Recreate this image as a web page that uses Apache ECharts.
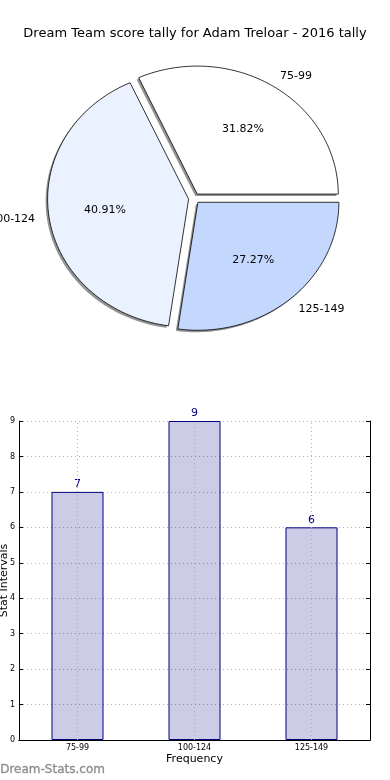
<!DOCTYPE html>
<html>
<head>
<meta charset="utf-8">
<script src="https://cdn.jsdelivr.net/npm/echarts@6/dist/echarts.min.js"></script>
<style>
html,body{margin:0;padding:0;background:#fff;}
#main{width:390px;height:780px;}
</style>
</head>
<body>
<div id="main"></div>
<script>
const titleText = 'Dream Team score tally for Adam Treloar - 2016 tally';
const categories = ['75-99', '100-124', '125-149'];
const counts = [7, 9, 6];
const yTicks = [0, 1, 2, 3, 4, 5, 6, 7, 8, 9];

const FONT = 'DejaVu Sans';
const sliceColors = ['#ffffff', '#eaf1ff', '#c4d8fe'];
const total = counts.reduce((a, b) => a + b, 0);
const cumStart = [];
counts.reduce((acc, v, i) => { cumStart[i] = acc; return acc + v; }, 0);

function renderSlice(params, api) {
  const i = params.dataIndex;
  const v = api.value(1);
  const a0 = cumStart[i] / total * Math.PI * 2;
  const a1 = (cumStart[i] + v) / total * Math.PI * 2;
  const mid = (a0 + a1) / 2;
  const ex = 0.04;
  const ox = ex * Math.cos(mid), oy = ex * Math.sin(mid);
  const pts = [api.coord([ox, oy])];
  const N = 80;
  for (let k = 0; k <= N; k++) {
    const a = a0 + (a1 - a0) * k / N;
    pts.push(api.coord([ox + Math.cos(a), oy + Math.sin(a)]));
  }
  const shadowPts = pts.map(p => [p[0] - 2, p[1] + 2]);
  const pctPos = api.coord([ox + 0.6 * Math.cos(mid), oy + 0.6 * Math.sin(mid)]);
  const namePos = api.coord([ox + 1.1 * Math.cos(mid), oy + 1.1 * Math.sin(mid)]);
  return {
    type: 'group',
    children: [
      { type: 'polygon', shape: { points: shadowPts }, style: { fill: 'rgba(60,60,60,0.55)', stroke: null } },
      { type: 'polygon', shape: { points: pts }, style: { fill: sliceColors[i], stroke: '#000', lineWidth: 0.8 } },
      { type: 'text', x: pctPos[0], y: pctPos[1], style: { text: (v / total * 100).toFixed(2) + '%', fontFamily: FONT, fontSize: 11, fill: '#000', align: 'center', verticalAlign: 'middle' } },
      { type: 'text', x: namePos[0] - (Math.cos(mid) >= 0 ? 1 : 0), y: namePos[1], style: { text: categories[i], fontFamily: FONT, fontSize: 11, fill: '#000', align: Math.cos(mid) >= 0 ? 'left' : 'right', verticalAlign: 'middle' } }
    ]
  };
}

const chart = echarts.init(document.getElementById('main'), null, { renderer: 'canvas' });
const option = {
  backgroundColor: '#fff',
  animation: false,
  textStyle: { fontFamily: FONT },
  title: {
    text: titleText, left: 'center', top: 22,
    textStyle: { fontFamily: FONT, fontSize: 13, fontWeight: 'normal', color: '#000' }
  },
  graphic: [{
    type: 'text', left: 0, top: 764,
    style: { text: 'Dream-Stats.com', fontFamily: FONT, fontSize: 12, fontWeight: 'normal', fill: '#8c8c8c', stroke: '#a8a8a8', lineWidth: 0.4 }
  }],
  grid: [
    { left: 53.2, top: 70.4, width: 282, height: 256, outerBoundsMode: 'none', containLabel: false },
    { left: 19, right: 20, top: 421, bottom: 40, outerBoundsMode: 'none', containLabel: false }
  ],
  xAxis: [
    { gridIndex: 0, type: 'value', min: -1, max: 1, show: false },
    {
      gridIndex: 1, type: 'category', data: categories, boundaryGap: true,
      axisLine: { lineStyle: { color: '#000', width: 1 } },
      axisTick: { inside: true, alignWithLabel: true, length: 4, lineStyle: { color: '#000' } },
      axisLabel: { fontSize: 8, color: '#000', margin: 4, fontFamily: FONT },
      splitLine: { show: false },
      name: 'Frequency', nameLocation: 'middle', nameGap: 14, nameMoveOverlap: false,
      nameTextStyle: { fontSize: 11, color: '#000', fontFamily: FONT }
    },
    {
      gridIndex: 1, type: 'category', data: categories, position: 'top', boundaryGap: true,
      axisLine: { lineStyle: { color: '#000', width: 1 } },
      axisTick: { inside: true, alignWithLabel: true, length: 4, lineStyle: { color: '#000' } },
      axisLabel: { show: false }, splitLine: { show: false }
    }
  ],
  yAxis: [
    { gridIndex: 0, type: 'value', min: -1, max: 1, show: false },
    {
      gridIndex: 1, type: 'value', min: yTicks[0], max: yTicks[yTicks.length - 1], interval: 1,
      axisLine: { show: true, lineStyle: { color: '#000', width: 1 } },
      axisTick: { show: true, inside: true, length: 4, lineStyle: { color: '#000' } },
      axisLabel: { fontSize: 8, color: '#000', margin: 4, fontFamily: FONT },
      splitLine: { show: true, lineStyle: { color: '#b0b0b0', type: [1, 3], width: 1 } },
      name: 'Stat Intervals', nameLocation: 'middle', nameGap: 9, nameRotate: 90, nameMoveOverlap: false,
      nameTextStyle: { fontSize: 11, color: '#000', fontFamily: FONT }
    },
    {
      gridIndex: 1, type: 'value', position: 'right', min: yTicks[0], max: yTicks[yTicks.length - 1], interval: 1,
      axisLine: { show: true, lineStyle: { color: '#000', width: 1 } },
      axisTick: { show: true, inside: true, length: 4, lineStyle: { color: '#000' } },
      axisLabel: { show: false }, splitLine: { show: false }
    }
  ],
  series: [
    {
      type: 'custom', xAxisIndex: 0, yAxisIndex: 0, clip: false,
      renderItem: renderSlice,
      data: counts.map((v, i) => [i, v])
    },
    {
      type: 'bar', xAxisIndex: 1, yAxisIndex: 1, data: counts, barWidth: 52,
      itemStyle: { color: 'rgba(0,0,128,0.2)', borderColor: '#000080', borderWidth: 1 },
      label: { show: true, position: 'top', distance: 2, color: '#000080', fontSize: 11, fontFamily: FONT },
      markLine: {
        silent: true, symbol: 'none', label: { show: false },
        lineStyle: { color: '#b0b0b0', type: [1, 3], width: 1 },
        data: categories.map(c => ({ xAxis: c }))
      }
    }
  ]
};
chart.setOption(option);
</script>
</body>
</html>
